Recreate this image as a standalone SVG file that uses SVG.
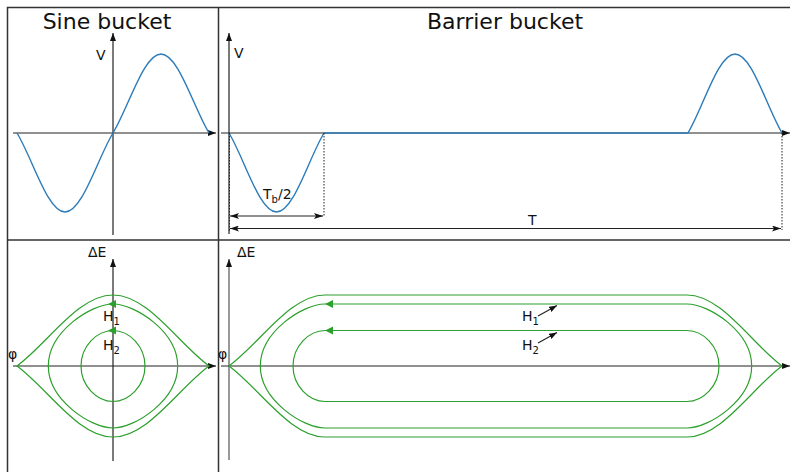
<svg xmlns="http://www.w3.org/2000/svg" width="790" height="472" viewBox="0 0 790 472">
<style>
text{font-family:"DejaVu Sans","Verdana",sans-serif;fill:#111}
.title{font-size:22px}
.lbl{font-size:14px}
.sub{font-size:10px}
.frame{stroke:#333;stroke-width:1.5;fill:none}
.axis{stroke:#222;stroke-width:1.2;fill:none}
.gaxis{stroke:#777;stroke-width:1.5;fill:none}
.v{stroke:#2b7bba;stroke-width:1.4;fill:none}
.orb{stroke:#2ca02c;stroke-width:1.2;fill:none}
.dot{stroke:#222;stroke-width:1;stroke-dasharray:1.5,1.5;fill:none}
.dim{stroke:#222;stroke-width:1.1;fill:none}
</style>
<defs>
<marker id="ah" viewBox="0 0 8 6" refX="8" refY="3" markerWidth="8" markerHeight="6" markerUnits="userSpaceOnUse" orient="auto">
<path d="M0,0 L8,3 L0,6 Z" fill="#111"/>
</marker>
<marker id="ahs" viewBox="0 0 9 6" refX="9" refY="3" markerWidth="9" markerHeight="6" markerUnits="userSpaceOnUse" orient="auto-start-reverse">
<path d="M0,0 L9,3 L0,6 L2,3 Z" fill="#111"/>
</marker>
</defs>

<g id="frame">
<path class="frame" d="M7.5,472 V7.5 H790 M218.5,7.5 V472 M7.5,240 H790"/>
</g>

<g id="sine-voltage">
<text class="title" x="107" y="29" text-anchor="middle">Sine bucket</text>
<line class="axis" x1="113" y1="235" x2="113" y2="33" marker-end="url(#ah)"/>
<line class="axis" x1="13" y1="133" x2="216" y2="133" marker-end="url(#ah)"/>
<text class="lbl" x="96" y="60">V</text>
<path class="v" d="M17,133 C32.65,158.76 47.63,212 65,212 C82.37,212 97.35,158.76 113,133 C128.65,107.24 143.63,54 161,54 C178.37,54 193.35,107.24 209,133"/>
</g>

<g id="barrier-voltage">
<text class="title" x="505" y="29" text-anchor="middle">Barrier bucket</text>
<line class="axis" x1="229" y1="234" x2="229" y2="33" marker-end="url(#ah)"/>
<line class="axis" x1="221" y1="133" x2="790" y2="133" marker-end="url(#ah)"/>
<text class="lbl" x="234" y="58">V</text>
<path class="v" d="M229,133 C244.49,158.76 259.31,212 276.5,212 C293.69,212 308.51,158.76 324,133 L688,133 C703.33,107.24 717.99,54 735,54 C752.01,54 766.67,107.24 782,133"/>
<path class="dot" d="M229.5,133 V232 M324,133 V217 M782,133 V230"/>
<line class="dim" x1="230" y1="216" x2="323" y2="216" marker-start="url(#ahs)" marker-end="url(#ahs)"/>
<line class="dim" x1="230" y1="228.5" x2="781" y2="228.5" marker-start="url(#ahs)" marker-end="url(#ahs)"/>
<text class="lbl" x="263" y="199">T<tspan class="sub" dy="4">b</tspan><tspan dy="-4">/2</tspan></text>
<text class="lbl" x="528" y="225">T</text>
</g>

<g id="sine-phase">
<line class="axis" x1="113" y1="461" x2="113" y2="259" marker-end="url(#ah)"/>
<line class="axis" x1="13" y1="366" x2="216" y2="366" marker-end="url(#ah)"/>
<text class="lbl" x="88" y="257">ΔE</text>
<text class="lbl" x="8" y="359">φ</text>
<path class="orb" d="M17,366 C48.31,342.84 78.26,295 113,295 C147.74,295 177.69,342.84 209,366 C177.69,389.16 147.74,437 113,437 C78.26,437 48.31,389.16 17,366 Z"/>
<path class="orb" d="M113,304 C134.96,304 177.69,331.77 177.69,366 C177.69,400.23 134.96,428 113,428 C91.04,428 48.31,400.23 48.31,366 C48.31,331.77 91.04,304 113,304 Z"/>
<path class="orb" d="M113,330.5 C129.24,330.5 145,346.4 145,366 C145,385.6 129.24,401.5 113,401.5 C96.76,401.5 81,385.6 81,366 C81,346.4 96.76,330.5 113,330.5 Z"/>
<path d="M108,304 L116,300 L116,308 Z" fill="#2ca02c"/>
<path d="M108,330.5 L116,326.5 L116,334.5 Z" fill="#2ca02c"/>
<text class="lbl" x="103" y="321">H<tspan class="sub" dy="4">1</tspan></text>
<text class="lbl" x="103" y="350">H<tspan class="sub" dy="4">2</tspan></text>
</g>

<g id="barrier-phase">
<line class="gaxis" x1="229" y1="460" x2="229" y2="259" marker-end="url(#ah)"/>
<line class="axis" x1="221" y1="366" x2="790" y2="366" marker-end="url(#ah)"/>
<text class="lbl" x="237" y="257">ΔE</text>
<text class="lbl" x="218" y="359">φ</text>
<path class="orb" d="M229,366 C260.31,342.84 290.26,295 325,295 L687,295 C721.38,295 751.02,342.84 782,366 C751.02,389.16 721.38,437 687,437 L325,437 C290.26,437 260.31,389.16 229,366 Z"/>
<path class="orb" d="M325,304 L687,304 C708.96,304 751.69,331.77 751.69,366 C751.69,400.23 708.96,428 687,428 L325,428 C303.04,428 260.31,400.23 260.31,366 C260.31,331.77 303.04,304 325,304 Z"/>
<path class="orb" d="M325,330.5 L687,330.5 C703.24,330.5 719,346.4 719,366 C719,385.6 703.24,401.5 687,401.5 L325,401.5 C308.76,401.5 293,385.6 293,366 C293,346.4 308.76,330.5 325,330.5 Z"/>
<path d="M325,304 L333,300 L333,308 Z" fill="#2ca02c"/>
<path d="M325,330.5 L333,326.5 L333,334.5 Z" fill="#2ca02c"/>
<text class="lbl" x="522" y="321">H<tspan class="sub" dy="4">1</tspan></text>
<text class="lbl" x="522" y="350">H<tspan class="sub" dy="4">2</tspan></text>
</g>

<g id="connectors">
<line class="dim" x1="538" y1="316" x2="557" y2="305.5" marker-end="url(#ah)"/>
<line class="dim" x1="538" y1="343" x2="557" y2="332.5" marker-end="url(#ah)"/>
</g>
</svg>
